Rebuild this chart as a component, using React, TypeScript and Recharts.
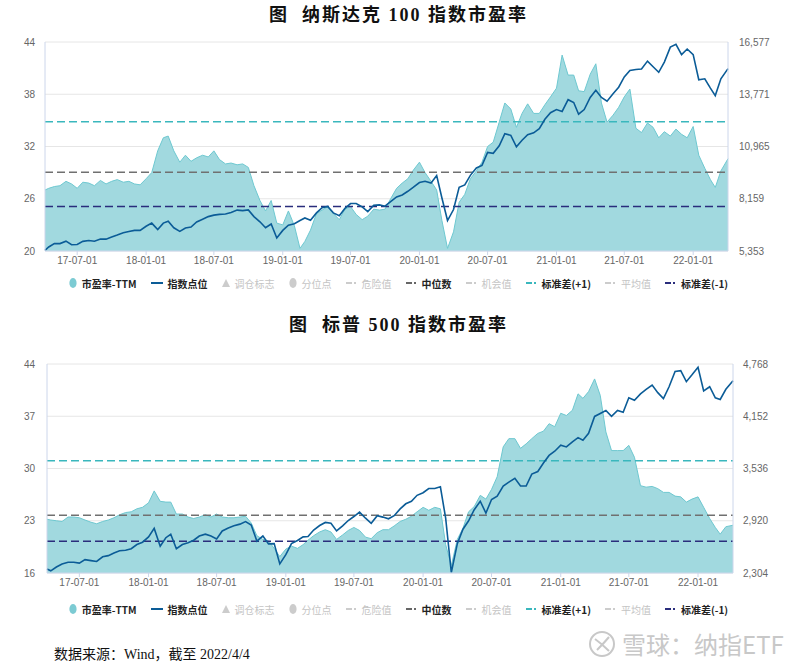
import React from 'react';
import {
  ComposedChart, Area, Line, XAxis, YAxis, CartesianGrid, ReferenceLine, Legend
} from 'recharts';

// 半月一个点：2017-04-06 ... 2022-04-04
const dates: string[] = ['2017-04-06', '2017-04-16'];
for (let y = 2017; y <= 2022; y++) {
  for (let m = 1; m <= 12; m++) {
    if ((y === 2017 && m < 5) || (y === 2022 && m > 3)) continue;
    const mm = String(m).padStart(2, '0');
    dates.push(`${y}-${mm}-01`, `${y}-${mm}-16`);
  }
}
dates.push('2022-04-04');

const xTickDates = [
  '2017-07-01', '2018-01-01', '2018-07-01', '2019-01-01', '2019-07-01',
  '2020-01-01', '2020-07-01', '2021-01-01', '2021-07-01', '2022-01-01',
];

// 纳斯达克100
const ndxPe = [
  27.0, 27.2, 27.4, 27.5, 28.0, 27.7, 27.2, 27.9, 27.8, 27.5,
  28.1, 27.7, 28.0, 28.2, 27.9, 28.0, 27.7, 27.6, 28.3, 29.0,
  31.5, 33.0, 33.2, 31.5, 30.2, 31.0, 30.3, 30.7, 31.0, 30.8,
  31.5, 30.5, 30.0, 30.1, 29.9, 30.0, 29.6, 27.5, 25.8, 24.6,
  25.8, 23.2, 23.0, 24.6, 22.9, 20.3, 21.1, 22.4, 24.3, 24.7,
  25.1, 24.3, 23.6, 24.8, 25.1, 24.2, 23.6, 24.0, 24.8, 24.7,
  24.8, 26.0, 27.2, 27.8, 28.3, 29.3, 30.2, 29.0, 28.0, 27.0,
  23.5, 20.3, 22.2, 25.6, 26.5, 28.3, 29.2, 30.2, 32.0, 32.5,
  34.8, 37.0, 36.3, 34.2, 35.8, 36.9, 35.8, 35.8, 36.8, 37.7,
  38.7, 42.5, 40.2, 40.2, 38.4, 38.3, 40.3, 41.5, 37.0, 34.8,
  35.6, 36.5, 37.7, 38.6, 34.1, 33.6, 34.7, 34.2, 33.0, 33.7,
  33.2, 34.0, 33.4, 33.0, 34.3, 31.0, 29.5, 28.2, 27.3, 29.2, 30.6,
];
const ndxIdx = [
  5390, 5570, 5750, 5750, 5880, 5690, 5700, 5870, 5920, 5880,
  6000, 5990, 6105, 6210, 6330, 6400, 6460, 6460, 6680, 6850,
  6500, 6850, 6950, 6600, 6410, 6590, 6640, 6910, 7060, 7200,
  7280, 7320, 7340, 7420, 7550, 7520, 7560, 7200, 6920, 6600,
  6800, 6050, 6460, 6740, 6820, 6990, 7125, 7000, 7400, 7680,
  7750, 7400, 7250, 7640, 7900, 7900, 7720, 7470, 7810, 7830,
  7760, 8000, 8260, 8360, 8560, 8780, 9030, 9100, 9000, 9400,
  8200, 6990, 7580, 8770, 8900, 9415, 9810, 9950, 10650, 10600,
  11000, 11650, 11565, 10950, 11300, 11600, 11700, 11923, 12430, 12780,
  12950, 12850, 13480, 13330, 12700, 12950, 13600, 13982, 13600, 13400,
  13800, 14150, 14700, 15050, 15100, 15130, 15550, 15250, 14950, 15500,
  16300, 16450, 15900, 16200, 15900, 14550, 14600, 14100, 13700, 14600, 15145,
];
const ndxPeTicks = [20, 26, 32, 38, 44];
const ndxIdxTicks = [5353, 8159, 10965, 13771, 16577];
const ndxLevels = { plus1: 34.85, median: 29.05, minus1: 25.1 };

// 标普500
const spPe = [
  23.2, 23.1, 23.0, 22.9, 23.5, 23.5, 23.4, 23.1, 22.8, 22.6,
  22.9, 23.1, 23.4, 23.8, 24.1, 24.2, 24.6, 24.8, 25.4, 27.0,
  25.6, 25.5, 25.5, 23.9, 23.9, 23.5, 23.3, 23.5, 23.8, 23.5,
  23.9, 23.5, 23.4, 23.4, 23.5, 23.6, 22.7, 21.0, 20.5, 20.3,
  19.3, 18.2, 19.2, 19.6, 19.3, 19.8, 20.4, 21.0, 21.5, 21.8,
  21.5, 20.5, 21.1, 21.7, 22.1, 21.7, 20.8, 20.6, 21.4, 21.8,
  21.8, 22.3, 22.9, 23.2, 23.6, 24.2, 24.8, 24.4, 24.8, 24.6,
  19.8, 17.0, 20.5, 22.0, 24.2, 24.9, 26.4, 25.9, 27.2, 28.9,
  32.9, 34.0, 34.0, 32.7, 33.3, 34.0, 34.7, 35.0, 36.0, 35.6,
  37.4, 37.1, 37.8, 40.0, 39.4, 40.3, 42.0, 39.8, 34.9, 32.4,
  32.4, 32.4, 33.1, 31.5, 27.7, 27.5, 27.6, 27.3, 26.8, 26.8,
  26.3, 26.2, 25.5, 25.9, 26.2, 24.8, 23.3, 22.1, 21.2, 22.2, 22.4,
];
const spIdx = [
  2352, 2330, 2375, 2410, 2430, 2430, 2420, 2462, 2450, 2440,
  2495, 2509, 2540, 2566, 2573, 2590, 2640, 2667, 2730, 2830,
  2620, 2720, 2760, 2590, 2640, 2660, 2690, 2740, 2762, 2740,
  2706, 2800, 2835, 2860, 2880, 2910, 2870, 2680, 2740, 2647,
  2650, 2411, 2520, 2650, 2687, 2730, 2734, 2810, 2864, 2900,
  2890, 2800, 2860, 2923, 2970, 3022, 2950, 2890, 2980, 2963,
  2943, 2980, 3060, 3120, 3150, 3220, 3250, 3300, 3300, 3320,
  2950, 2310, 2650, 2820, 2920, 3050, 3150, 3010, 3170, 3210,
  3330, 3376, 3420, 3330, 3330, 3470, 3500, 3600, 3690, 3740,
  3810, 3790, 3850, 3900, 3870, 3950, 4150, 4185, 4220, 4150,
  4220, 4200, 4370, 4340, 4415, 4468, 4520, 4430, 4360, 4500,
  4680, 4690, 4560, 4640, 4730, 4450, 4500, 4370, 4350, 4470, 4571,
];
const spPeTicks = [16, 23, 30, 37, 44];
const spIdxTicks = [2304, 2920, 3536, 4152, 4768];
const spLevels = { plus1: 31.05, median: 23.75, minus1: 20.25 };

const legendItems = [
  { name: '市盈率-TTM', icon: 'circle', color: '#7ccbd3', on: true },
  { name: '指数点位', icon: 'line', color: '#0b5c97', on: true },
  { name: '调仓标志', icon: 'triangle', color: '#cccccc', on: false },
  { name: '分位点', icon: 'circle', color: '#cccccc', on: false },
  { name: '危险值', icon: 'dash', color: '#cccccc', on: false },
  { name: '中位数', icon: 'dash', color: '#666666', on: true },
  { name: '机会值', icon: 'dash', color: '#cccccc', on: false },
  { name: '标准差(+1)', icon: 'dash', color: '#3ab7bd', on: true },
  { name: '平均值', icon: 'dash', color: '#cccccc', on: false },
  { name: '标准差(-1)', icon: 'dash', color: '#2a2d7c', on: true },
];

const xTicks = xTickDates.map(d => Date.parse(d));
const fmtDate = (v: number) => new Date(v).toISOString().slice(2, 10);
const fmtNum = (v: number) => v.toLocaleString('en-US');
const tickStyle = { fill: '#666', fontSize: 10, fontFamily: '"Liberation Sans", sans-serif' };

const LegendIcon = ({ icon, color }: { icon: string; color: string }) => {
  if (icon === 'circle') {
    return <svg width={8} height={12}><ellipse cx={4} cy={6} rx={3.6} ry={5} fill={color} /></svg>;
  }
  if (icon === 'line') {
    return <svg width={12} height={12}><rect x={0} y={5} width={12} height={2} fill={color} /></svg>;
  }
  if (icon === 'triangle') {
    return <svg width={8} height={12}><path d="M4 2 L8 10 L0 10 Z" fill={color} /></svg>;
  }
  return (
    <svg width={11} height={12}>
      <rect x={0} y={5} width={6} height={2} fill={color} />
      <rect x={8} y={5} width={2} height={2} fill={color} />
    </svg>
  );
};

const LegendRow = () => (
  <div style={{ display: 'flex', justifyContent: 'center', alignItems: 'center', gap: 14, height: 16 }}>
    {legendItems.map(it => (
      <div key={it.name} style={{ display: 'flex', alignItems: 'center', gap: 5 }}>
        <LegendIcon icon={it.icon} color={it.color} />
        <span style={{
          fontSize: 10, color: it.on ? '#222' : '#c4c4c4', fontWeight: it.on ? 700 : 400,
          fontFamily: '"Noto Sans CJK SC", sans-serif', whiteSpace: 'nowrap',
        }}>{it.name}</span>
      </div>
    ))}
  </div>
);

interface PeChartProps {
  pe: number[];
  idx: number[];
  peTicks: number[];
  idxTicks: number[];
  levels: { plus1: number; median: number; minus1: number };
  top: number;
  marginTop: number;
  marginBottom: number;
  leftW: number;
  rightW: number;
  leftGap: number;
  rightGap: number;
  legendTop: number;
}

const PeChart = (p: PeChartProps) => {
  const data = dates.map((d, i) => ({ t: Date.parse(d), pe: p.pe[i], idx: p.idx[i] }));
  return (
    <div style={{ position: 'absolute', left: 0, top: p.top }}>
      <ComposedChart width={797} height={270} data={data}
        margin={{ top: p.marginTop, right: 0, bottom: p.marginBottom, left: 0 }}>
        <CartesianGrid yAxisId="pe" vertical={false} stroke="#e6e6e6" />
        <XAxis dataKey="t" type="number" domain={['dataMin', 'dataMax']} ticks={xTicks}
          tickFormatter={fmtDate} height={25} stroke="#ccd6eb" tickSize={4} tickMargin={2}
          tick={tickStyle} />
        <YAxis yAxisId="pe" domain={[p.peTicks[0], p.peTicks[4]]} ticks={p.peTicks}
          width={p.leftW} axisLine={{ stroke: '#ccd6eb' }} tickLine={false}
          tickMargin={p.leftGap} tick={tickStyle} allowDataOverflow />
        <YAxis yAxisId="idx" orientation="right" domain={[p.idxTicks[0], p.idxTicks[4]]}
          ticks={p.idxTicks} tickFormatter={fmtNum} width={p.rightW}
          axisLine={{ stroke: '#ccd6eb' }} tickLine={false} tickMargin={p.rightGap}
          tick={tickStyle} allowDataOverflow />
        <Area yAxisId="pe" dataKey="pe" type="linear" fill="#a1d9df" fillOpacity={1}
          stroke="#6ec8d0" strokeWidth={1} dot={false} activeDot={false}
          isAnimationActive={false} />
        <ReferenceLine yAxisId="pe" y={p.levels.plus1} stroke="#3ab7bd" strokeWidth={1.5} strokeDasharray="8 4" />
        <ReferenceLine yAxisId="pe" y={p.levels.median} stroke="#707070" strokeWidth={1.5} strokeDasharray="8 4" />
        <ReferenceLine yAxisId="pe" y={p.levels.minus1} stroke="#2a2d7c" strokeWidth={1.5} strokeDasharray="8 4" />
        <Line yAxisId="idx" dataKey="idx" type="linear" stroke="#0b5c97" strokeWidth={1.6}
          dot={false} activeDot={false} isAnimationActive={false} />
        <Legend verticalAlign="middle" align="center" layout="horizontal"
          wrapperStyle={{ top: p.legendTop, left: 0, width: 797 }}
          content={() => <LegendRow />} />
      </ComposedChart>
    </div>
  );
};

const titleStyle: React.CSSProperties = {
  position: 'absolute', left: 0, width: 797, textAlign: 'center',
  fontFamily: '"Liberation Serif", "Noto Sans CJK SC", serif', fontWeight: 700,
  fontSize: 18, letterSpacing: 2, color: '#111', whiteSpace: 'pre',
};

export default function App() {
  return (
    <div style={{ position: 'absolute', left: 0, top: 0, width: 797, height: 669, background: '#fff', overflow: 'hidden' }}>
      <div style={{ ...titleStyle, top: 0 }}>{'图  纳斯达克 100 指数市盈率'}</div>
      <PeChart pe={ndxPe} idx={ndxIdx} peTicks={ndxPeTicks} idxTicks={ndxIdxTicks}
        levels={ndxLevels} top={30} marginTop={12} marginBottom={24}
        leftW={45} rightW={69} leftGap={4} rightGap={5} legendTop={245} />
      <div style={{ ...titleStyle, top: 310 }}>{'图  标普 500 指数市盈率'}</div>
      <PeChart pe={spPe} idx={spIdx} peTicks={spPeTicks} idxTicks={spIdxTicks}
        levels={spLevels} top={350} marginTop={14} marginBottom={22}
        leftW={47} rightW={64} leftGap={6} rightGap={4} legendTop={251} />
      <div style={{
        position: 'absolute', left: 54, top: 643, fontSize: 14, color: '#111',
        fontFamily: '"Liberation Serif", "Noto Sans CJK SC", serif',
      }}>数据来源：Wind，截至 2022/4/4</div>
      <div style={{ position: 'absolute', left: 588, top: 626, display: 'flex', alignItems: 'center', gap: 6 }}>
        <svg width={28} height={28}>
          <circle cx={14} cy={14} r={12} fill="none" stroke="#c8c8c8" strokeWidth={2} />
          <path d="M7 9 Q14 14 21 21 M21 7 Q16 13 9 20" fill="none" stroke="#c8c8c8" strokeWidth={2} />
        </svg>
        <span style={{ fontSize: 24, color: '#c8c8c8', fontFamily: '"Noto Sans CJK SC", sans-serif' }}>雪球：纳指ETF</span>
      </div>
    </div>
  );
}
